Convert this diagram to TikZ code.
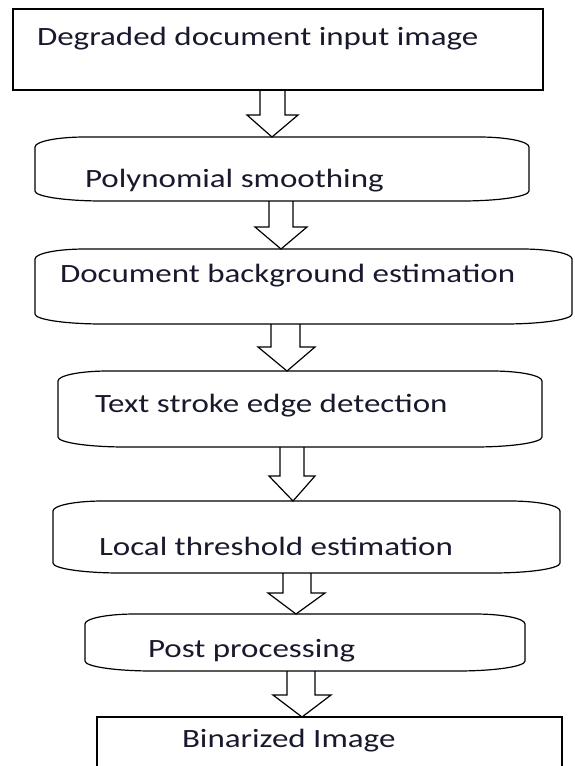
\documentclass[tikz,border=0pt]{standalone}
\usepackage{fontspec}
\setmainfont[FakeStretch=1.25]{Carlito}
\definecolor{txt}{RGB}{25,25,45}
\newcommand\rbox[5]{%
  \node[boxnode, minimum width={(#4-#2)*1pt}, minimum height={(#5-#3)*1pt}] (#1) at ({(#2+#4)/2},{(#3+#5)/2}) {};
  \draw[boxline] (#2+50,#3) -- (#4-50,#3) .. controls (#4-22,#3) and (#4,#3+4.5) .. (#4,#3+10)
    -- (#4,#5-10) .. controls (#4,#5-4.5) and (#4-30,#5) .. (#4-68,#5)
    -- (#2+68,#5) .. controls (#2+30,#5) and (#2,#5-4.5) .. (#2,#5-10)
    -- (#2,#3+10) .. controls (#2,#3+4.5) and (#2+22,#3) .. cycle;
}
\newcommand\barrow[8]{%
  \draw[arr] (#3,0 |- #1.south) -- (#3,#8) -- (#5,#8) -- (#7,0 |- #2.north) -- (#6,#8) -- (#4,#8) -- (#4,0 |- #1.south);
}
\begin{document}
\begin{tikzpicture}[x=1pt,y=-1pt,
  boxnode/.style={draw=none, inner sep=0pt, outer sep=0pt, rectangle},
  boxline/.style={draw=black, line width=1.2pt, line join=miter},
  rectbox/.style={draw=black, line width=1.2pt, inner sep=0pt, outer sep=0pt, rectangle},
  arr/.style={draw=black, line width=1.2pt, line join=miter},
  lbl/.style={inner sep=0pt, outer sep=0pt, anchor=base west, text=txt, font=\fontsize{26.4}{30}\selectfont}]
\useasboundingbox (0,0) rectangle (574,766);
\clip (0,0) rectangle (574,766);
% boxes
\node[rectbox, minimum width=530pt, minimum height=81pt] (b1) at (278,49.5) {};
\rbox{b2}{35}{137}{529}{201}
\rbox{b3}{35}{249}{572}{324}
\rbox{b4}{58}{371}{542}{447}
\rbox{b5}{53}{501}{560}{573}
\rbox{b6}{85}{614}{525}{671}
\node[rectbox, minimum width=465pt, minimum height=70pt] (b7) at (329.5,752) {};
% labels
\node[lbl] (t1) at (37,45) {Degraded document input image};
\node[lbl] (t2) at (85,187) {Polynomial smoothing};
\node[lbl] (t3) at (60,282) {Document background estimation};
\node[lbl] (t4) at (95,412) {Text stroke edge detection};
\node[lbl] (t5) at (99,555) {Local threshold estimation};
\node[lbl] (t6) at (148,657) {Post processing};
\node[lbl] (t7) at (182,747) {Binarized Image};
% block arrows
\barrow{b1}{b2}{260}{285}{247}{298}{272}{115}
\barrow{b2}{b3}{269}{293}{255}{307}{281}{227}
\barrow{b3}{b4}{271}{300}{258}{315}{287}{347}
\barrow{b4}{b5}{280}{304}{269}{315}{293}{476}
\barrow{b5}{b6}{283}{311}{268}{325}{296}{593}
\barrow{b6}{b7}{287}{315}{273}{331}{302}{695}
\end{tikzpicture}
\end{document}
